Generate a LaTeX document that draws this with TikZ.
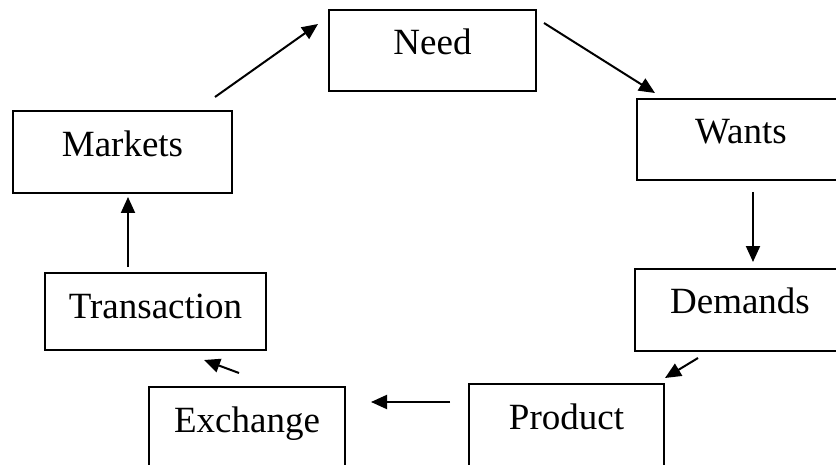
\documentclass[tikz,border=0pt]{standalone}
\usepackage{fontspec}
\setmainfont{Liberation Serif}
\usetikzlibrary{arrows.meta,calc}

\begin{document}
\begin{tikzpicture}[x=0.5pt, y=-0.5pt,
    box/.style={draw, line width=1pt, rectangle, anchor=north west, inner xsep=0pt, inner ysep=0pt, text height=22.5pt, font=\fontsize{18.5}{22}\selectfont},
    arr/.style={-{Triangle[length=8pt,width=7pt]}, line width=1pt}]

   \useasboundingbox (0,0) rectangle (836,465);
   \clip (0,0) rectangle (836,465);

    % the boxes: name/x/y/width/depth/text
    \foreach \id/\x/\y/\w/\dep/\name in {{Need/328/9/103.5/18/Need}, {Wants/636/98/104/18/Wants}, {Demands/634/268/105/18.5/Demands}, {Markets/12/110/109.5/18.5/Markets}, {Transaction/44/272/110.5/16/Transaction}, {Exchange/148/386/98/30/Exchange}, {Product/468/383/97.5/30/Product}}
        \node[box, minimum width=\w pt, text depth=\dep pt] (\id) at (\x,\y) {\name};

    % the arrows round the cycle
    \draw[arr] ($(Markets.north east)+(-18,-13)$) -- ($(Need.north west)+(-10,15)$);
    \draw[arr] ($(Need.north east)+(7,14)$) -- ($(Wants.north west)+(19,-5)$);
    \draw[arr] ($(Wants.south west)+(117,11)$) -- ($(Demands.north west)+(119,-6)$);
    \draw[arr] ($(Demands.south west)+(64,6)$) -- ($(Product.north east)+(0,-5)$);
    \draw[arr] ($(Product.north west)+(-18,19)$) -- ($(Exchange.north east)+(25,16)$);
    \draw[arr] ($(Exchange.north west)+(91,-13)$) -- ($(Transaction.south west)+(160,9)$);
    \draw[arr] ($(Transaction.north west)+(84,-5)$) -- ($(Markets.south west)+(116,3)$);

\end{tikzpicture}
\end{document}
